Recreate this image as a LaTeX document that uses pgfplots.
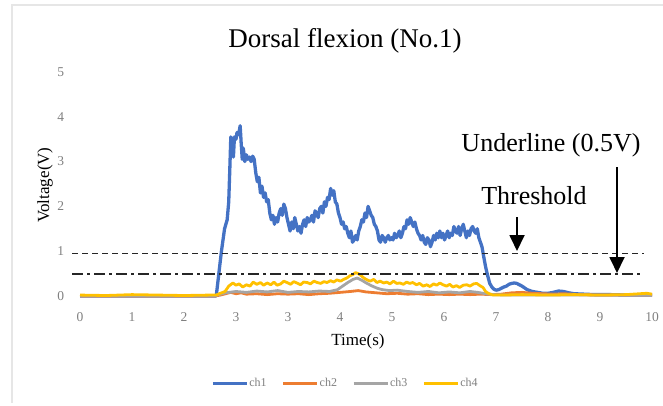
\documentclass[border=0pt]{standalone}
\usepackage{fontspec}
\setmainfont{Liberation Serif}
\usepackage{pgfplots}
\pgfplotsset{compat=1.18}
\usetikzlibrary{arrows.meta}

\definecolor{chA}{RGB}{68,114,196}
\definecolor{chB}{RGB}{237,125,49}
\definecolor{chC}{RGB}{165,165,165}
\definecolor{chD}{RGB}{255,192,0}
\definecolor{ticktxt}{RGB}{128,128,128}
\definecolor{frame}{RGB}{230,230,230}

\begin{document}
\begin{tikzpicture}[x=1pt,y=1pt]
\path[use as bounding box] (0,0) rectangle (663,405);
% outer chart frame (top and left edges visible)
\draw[frame,line width=2pt] (12,2) -- (12,400) -- (663,400);

\begin{axis}[
  at={(69.6pt,95.6pt)}, anchor=south west,
  scale only axis, width=592.8pt, height=246.4pt,
  xmin=-0.2, xmax=11.2, ymin=-0.3, ymax=5.2,
  axis line style={draw=none}, tick style={draw=none},
  xtick={0,1,2,3,4,5,6,7,8,9,10,11},
  xticklabels={0,1,2,3,3,4,5,6,7,8,9,10},
  ytick={0,1,2,3,4,5},
  yticklabels={0,1,2,3,4,5},
  tick label style={font=\fontsize{13.5}{15}\selectfont, text=ticktxt},
  yticklabel style={xshift=-2pt},
  legend columns=4,
  legend style={at={(0.4646,-0.2987)}, anchor=center, draw=none,
    font=\fontsize{12}{14}\selectfont, text=ticktxt,
    /tikz/every even column/.append style={column sep=14pt},
    nodes={inner xsep=1pt}},
  legend image code/.code={\draw[#1,line width=3pt] (0pt,0pt) -- (34pt,0pt);},
]
\addplot[chA, line width=3.3pt, line join=round] coordinates {
(0,0) (0.5,0) (1,0) (1.5,0) (2,0) (2.5,0) (2.62,0)
(2.66,0.40) (2.72,1.00) (2.78,1.50) (2.83,1.70) (2.86,2.10) (2.88,2.80) (2.90,3.55)
(2.93,3.45) (2.95,3.10) (2.97,3.55) (3.00,3.50) (3.02,3.65) (3.05,3.60) (3.08,3.80)
(3.10,3.40) (3.12,3.05) (3.14,3.30) (3.17,3.00) (3.20,3.15) (3.23,3.05) (3.26,3.10)
(3.29,3.00) (3.32,3.12) (3.35,3.05) (3.38,2.75) (3.41,2.55) (3.44,2.65) (3.47,2.30)
(3.50,2.45) (3.53,2.20) (3.56,2.30) (3.59,2.10) (3.62,2.15) (3.65,1.85) (3.68,1.70)
(3.71,1.80) (3.74,1.60) (3.77,1.75) (3.80,1.65) (3.83,1.85) (3.86,1.95) (3.89,1.80)
(3.92,2.05) (3.95,1.95) (3.98,1.75) (4.01,1.60) (4.04,1.45) (4.07,1.65) (4.10,1.50)
(4.13,1.75) (4.16,1.60) (4.19,1.45) (4.22,1.55) (4.25,1.40) (4.28,1.60) (4.31,1.70)
(4.34,1.55) (4.37,1.75) (4.40,1.65) (4.43,1.70) (4.46,1.80) (4.49,1.65) (4.52,1.90)
(4.55,1.85) (4.58,1.75) (4.61,1.95) (4.64,2.00) (4.67,1.85) (4.70,2.10) (4.73,2.00)
(4.76,2.20) (4.79,2.15) (4.82,2.40) (4.85,2.25) (4.88,2.35) (4.91,2.10) (4.94,2.05)
(4.97,1.85) (5.00,1.75) (5.03,1.60) (5.06,1.65) (5.09,1.50) (5.12,1.55) (5.15,1.40)
(5.18,1.30) (5.21,1.45) (5.24,1.20) (5.27,1.25) (5.30,1.35) (5.33,1.25) (5.36,1.45)
(5.39,1.55) (5.42,1.70) (5.45,1.65) (5.48,1.85) (5.51,1.75) (5.54,2.00) (5.57,1.90)
(5.60,1.80) (5.63,1.75) (5.66,1.60) (5.69,1.55) (5.72,1.45) (5.75,1.25) (5.78,1.20)
(5.81,1.35) (5.84,1.30) (5.87,1.20) (5.90,1.30) (5.93,1.35) (5.96,1.25) (5.99,1.30)
(6.02,1.25) (6.05,1.40) (6.08,1.30) (6.11,1.35) (6.14,1.45) (6.17,1.30) (6.20,1.40)
(6.23,1.55) (6.26,1.50) (6.29,1.70) (6.32,1.60) (6.35,1.75) (6.38,1.65) (6.41,1.55)
(6.44,1.65) (6.47,1.50) (6.50,1.40) (6.53,1.35) (6.56,1.25) (6.59,1.35) (6.62,1.20)
(6.65,1.15) (6.68,1.30) (6.71,1.25) (6.74,1.10) (6.77,1.20) (6.80,1.35) (6.83,1.25)
(6.86,1.40) (6.89,1.30) (6.92,1.45) (6.95,1.30) (6.98,1.40) (7.01,1.25) (7.04,1.35)
(7.07,1.45) (7.10,1.30) (7.13,1.40) (7.16,1.35) (7.19,1.55) (7.22,1.45) (7.25,1.40)
(7.28,1.55) (7.31,1.35) (7.34,1.50) (7.37,1.60) (7.40,1.45) (7.43,1.30) (7.46,1.45)
(7.49,1.35) (7.52,1.50) (7.55,1.55) (7.58,1.45) (7.61,1.40) (7.64,1.50) (7.67,1.30)
(7.70,1.20) (7.73,1.10) (7.76,0.90) (7.80,0.65) (7.84,0.45) (7.88,0.28) (7.92,0.20)
(7.96,0.15) (8.00,0.13) (8.05,0.14) (8.10,0.17) (8.15,0.20) (8.20,0.22) (8.25,0.26)
(8.30,0.28) (8.35,0.29) (8.40,0.28) (8.45,0.25) (8.50,0.22) (8.55,0.18) (8.60,0.14)
(8.70,0.10) (8.80,0.08) (8.90,0.06) (9.00,0.06) (9.10,0.08) (9.20,0.11) (9.30,0.10)
(9.40,0.07) (9.50,0.05) (9.70,0.04) (9.90,0.03) (10.2,0.03) (10.5,0.02) (10.8,0.02) (11,0.02)
};
\addlegendentry{ch1}
\addplot[chB, line width=2.8pt, line join=round] coordinates {
(0,0) (2.6,0) (2.7,0.02) (2.8,0.05) (2.9,0.08) (3.0,0.05) (3.1,0.07) (3.2,0.04)
(3.4,0.05) (3.6,0.03) (3.8,0.05) (4.0,0.04) (4.2,0.05) (4.4,0.03) (4.6,0.05)
(4.8,0.06) (5.0,0.08) (5.2,0.10) (5.35,0.12) (5.5,0.09) (5.7,0.07) (5.9,0.05)
(6.1,0.06) (6.3,0.04) (6.5,0.05) (6.7,0.03) (6.9,0.04) (7.1,0.03) (7.3,0.04)
(7.5,0.03) (7.7,0.04) (7.9,0.03) (8.1,0.04) (8.3,0.07) (8.5,0.08) (8.7,0.06)
(8.9,0.05) (9.1,0.04) (9.3,0.05) (9.6,0.03) (10,0.02) (10.5,0.02) (11,0.02)
};
\addlegendentry{ch2}
\addplot[chC, line width=2.8pt, line join=round] coordinates {
(0,0.01) (1,0.01) (2,0.01) (2.6,0.01) (2.7,0.04) (2.8,0.07) (3.0,0.10) (3.2,0.08)
(3.4,0.11) (3.6,0.09) (3.8,0.12) (4.0,0.08) (4.2,0.10) (4.4,0.09) (4.6,0.11)
(4.8,0.10) (4.95,0.14) (5.05,0.22) (5.15,0.30) (5.25,0.37) (5.33,0.40) (5.42,0.35)
(5.52,0.28) (5.62,0.22) (5.72,0.17) (5.82,0.14) (5.95,0.12) (6.1,0.13) (6.3,0.10)
(6.5,0.08) (6.7,0.10) (6.9,0.07) (7.1,0.09) (7.3,0.07) (7.5,0.10) (7.65,0.08)
(7.8,0.05) (7.95,0.03) (8.2,0.02) (9,0.02) (10,0.02) (11,0.02)
};
\addlegendentry{ch3}
\addplot[chD, line width=2.8pt, line join=round] coordinates {
(0,0.02) (0.5,0.01) (1,0.03) (1.5,0.02) (2,0.01) (2.5,0.02) (2.62,0.02) (2.70,0.06)
(2.79,0.10) (2.86,0.22) (2.94,0.29) (3.00,0.24) (3.06,0.27) (3.13,0.20) (3.20,0.25)
(3.27,0.22) (3.33,0.31) (3.40,0.26) (3.47,0.30) (3.53,0.24) (3.60,0.29) (3.67,0.25)
(3.73,0.31) (3.79,0.24) (3.86,0.27) (3.92,0.33) (3.98,0.30) (4.05,0.26) (4.11,0.32)
(4.17,0.29) (4.24,0.25) (4.30,0.31) (4.37,0.30) (4.43,0.27) (4.50,0.33) (4.56,0.30)
(4.63,0.28) (4.69,0.32) (4.75,0.30) (4.82,0.34) (4.88,0.31) (4.94,0.36) (5.01,0.33)
(5.07,0.37) (5.13,0.40) (5.19,0.45) (5.25,0.48) (5.30,0.52) (5.35,0.50) (5.40,0.46)
(5.46,0.40) (5.52,0.36) (5.58,0.33) (5.65,0.37) (5.71,0.30) (5.77,0.33) (5.84,0.29)
(5.90,0.31) (5.96,0.27) (6.03,0.33) (6.09,0.28) (6.15,0.29) (6.22,0.26) (6.28,0.31)
(6.34,0.28) (6.40,0.30) (6.47,0.25) (6.53,0.28) (6.60,0.22) (6.67,0.25) (6.73,0.21)
(6.80,0.27) (6.86,0.24) (6.92,0.29) (6.98,0.25) (7.05,0.22) (7.11,0.26) (7.17,0.20)
(7.24,0.23) (7.30,0.19) (7.37,0.24) (7.44,0.25) (7.50,0.22) (7.57,0.27) (7.63,0.28)
(7.69,0.23) (7.75,0.19) (7.80,0.10) (7.85,0.06) (7.94,0.02) (8.1,0.02) (8.5,0.03)
(9.0,0.02) (9.5,0.03) (10,0.02) (10.5,0.03) (10.9,0.06) (11,0.04)
};
\addlegendentry{ch4}
% threshold and underline reference lines
\addplot[black!85, line width=1.6pt, dash pattern=on 6pt off 4pt, forget plot]
  coordinates {(-0.15,0.95) (10.85,0.95)};
\addplot[black!85, line width=1.6pt, dash pattern=on 11pt off 4pt on 3pt off 4pt, forget plot]
  coordinates {(-0.15,0.49) (10.85,0.49)};
\end{axis}

% annotations
\node[font=\fontsize{26}{30}\selectfont] at (551,260) {Underline (0.5V)};
\node[font=\fontsize{26}{30}\selectfont] at (534,209) {Threshold};
\draw[line width=1.8pt, -{Triangle[width=15pt,length=16pt]}] (517,188) -- (517,154);
\draw[line width=1.8pt, -{Triangle[width=15pt,length=16pt]}] (617,238) -- (617,132);

% titles
\node[font=\fontsize{27}{31}\selectfont] at (345,364) {Dorsal flexion (No.1)};
\node[font=\fontsize{17}{20}\selectfont] at (358,64) {Time(s)};
\node[font=\fontsize{17}{20}\selectfont, rotate=90] at (45,220) {Voltage(V)};
\end{tikzpicture}
\end{document}
